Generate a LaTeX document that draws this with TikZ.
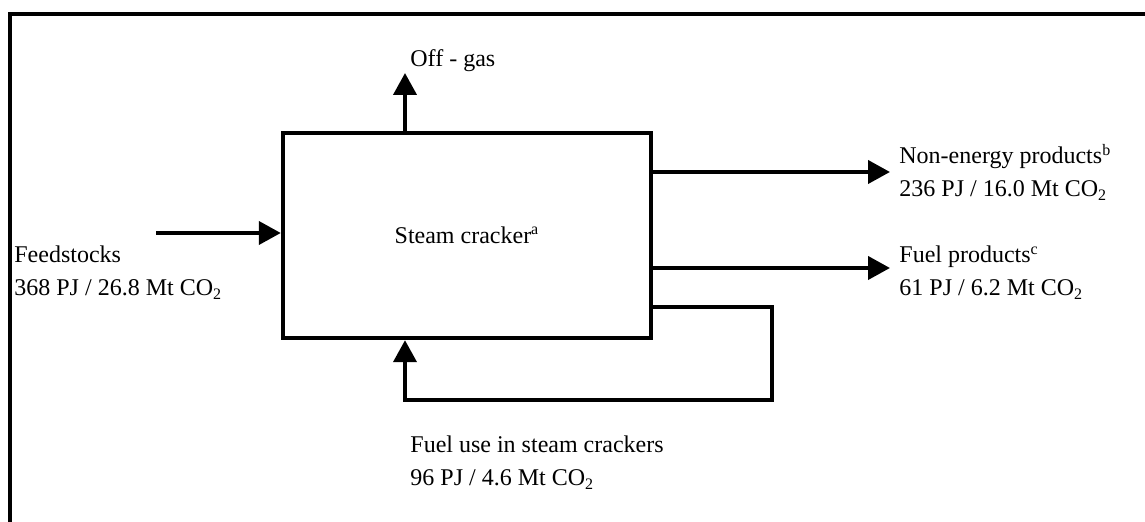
\documentclass[tikz,border=0pt]{standalone}
\usepackage{fontspec}
\setmainfont{Liberation Serif}
\usetikzlibrary{arrows.meta,positioning}
\tikzset{
  flow/.style={-{Triangle[length=11pt,width=11.5pt]},line width=2pt,draw=black},
  loopline/.style={line width=2pt,draw=black,-{Triangle[length=11pt,width=11.5pt]}},
  frame/.style={line width=2pt,draw=black},
  box/.style={draw=black,line width=2.2pt,fill=white,align=center,
              font=\fontsize{12}{16.5}\selectfont},
  note/.style={font=\fontsize{12}{16.5}\selectfont,align=left,inner sep=0pt,
               anchor=base west},
}

\begin{document}
\begin{tikzpicture}[x=0.5pt,y=-0.5pt]
    \useasboundingbox (0,0) rectangle (1145,522);
    \draw[frame] (10,522) -- (10,14) -- (1145,14);
    \node[box,minimum width=184pt,minimum height=102.5pt] (cracker) at (467,235.5)
      {Steam cracker\textsuperscript{a}};
    % texts (base = last line)
    \node[note] (offgas) at (410,67) {Off - gas};
    \node[note] (feed) at (14,296) {Feedstocks\\368 PJ / 26.8 Mt CO\textsubscript{2}};
    \node[note] (nonenergy) at (899,197)
      {Non-energy products\textsuperscript{b}\\236 PJ / 16.0 Mt CO\textsubscript{2}};
    \node[note] (fuelprod) at (899,296)
      {Fuel products\textsuperscript{c}\\61 PJ / 6.2 Mt CO\textsubscript{2}};
    \node[note] (fueluse) at (410,486)
      {Fuel use in steam crackers\\96 PJ / 4.6 Mt CO\textsubscript{2}};
    % connector ends
    \coordinate (offgas-tip) at (405,73);
    \coordinate (feed-in) at (156,233);
    \coordinate (nonenergy-tip) at (890,172);
    \coordinate (fuelprod-tip) at (890,268);
    \coordinate (loop-out) at (651,307);
    \coordinate (loop-corner) at (772,400);
    \draw[flow] (cracker.north -| offgas-tip) -- (offgas-tip);
    \draw[flow] (feed-in) -- (feed-in -| cracker.west);
    \draw[flow] (nonenergy-tip -| cracker.east) -- (nonenergy-tip);
    \draw[flow] (fuelprod-tip -| cracker.east) -- (fuelprod-tip);
    \draw[loopline] (loop-out -| cracker.east) -| (loop-corner)
      -| (cracker.south -| offgas-tip);
  \end{tikzpicture}
\end{document}
